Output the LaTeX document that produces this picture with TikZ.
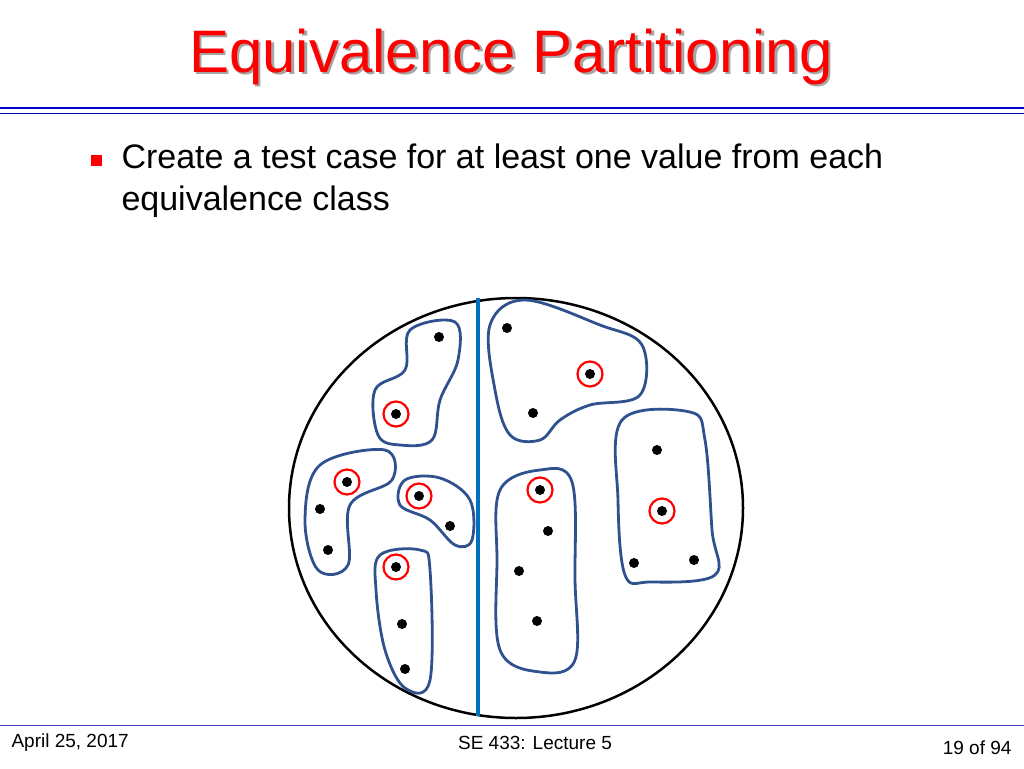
\documentclass[tikz,border=0pt]{standalone}
\usepackage{fontspec}
\setmainfont{Liberation Sans}
\begin{document}
\begin{tikzpicture}[x=1pt,y=-1pt,
  blob/.style={draw={rgb,255:red,47;green,82;blue,143},line width=2.8pt,line join=round},
  dot/.style={circle,fill=black,inner sep=0pt,minimum size=10pt},
  pick/.style={circle,draw=red,line width=2.2pt,inner sep=0pt,minimum size=25pt}]
\useasboundingbox (0,0) rectangle (1024,768);
\definecolor{tblue}{RGB}{0,112,192}
\node (title)[text=red,font=\fontsize{60}{70}\selectfont] at (511,58) {\rlap{\kern2.5pt\raisebox{-2.5pt}{\color{gray!70}Equivalence Partitioning}}Equivalence Partitioning};
\draw[blue!80!black,line width=2.5pt] (0,108) -- (1024,108);
\draw[blue!70!black,line width=1pt] (0,113) -- (1024,113);
\node (bul)[fill=red,minimum size=11pt,inner sep=0pt] at (96,160) {};
\node (txt)[anchor=north west,align=left,font=\fontsize{34}{42}\selectfont] at (118,140) {Create a test case for at least one value from each\\equivalence class};
\draw[line width=2.5pt] (516,508) ellipse [x radius=227, y radius=210];
\draw[tblue,line width=4pt] (478,298) -- (478,716);
\draw[blob] plot[smooth cycle,tension=0.6] coordinates {(410,330)(455,322)(458,360)(440,400)(432,440)(400,445)(378,435)(375,390)(405,370)};
\draw[blob] plot[smooth cycle,tension=0.6] coordinates {(320,465)(385,450)(392,480)(350,505)(348,565)(318,570)(305,520)};
\draw[blob] plot[smooth cycle,tension=0.6] coordinates {(405,480)(440,478)(470,500)(472,540)(455,545)(430,520)(400,505)};
\draw[blob] plot[smooth cycle,tension=0.6] coordinates {(380,555)(420,550)(430,570)(430,680)(405,688)(385,650)(376,590)};
\draw[blob] plot[smooth cycle,tension=0.6] coordinates {(490,325)(525,300)(600,325)(642,345)(640,395)(590,405)(560,420)(540,440)(510,435)(495,390)};
\draw[blob] plot[smooth cycle,tension=0.6] coordinates {(500,490)(540,470)(572,482)(575,580)(575,660)(540,672)(500,650)(497,560)};
\draw[blob] plot[smooth cycle,tension=0.6] coordinates {(622,420)(690,412)(705,440)(712,530)(715,575)(650,582)(625,575)(618,500)};
\foreach \x/\y in {439/337,320/509,328/550,450/526,402/624,405/669,507/328,533/413,657/450,634/563,694/560,548/531,519/571,537/621}
  \node[dot] at (\x,\y) {};
\foreach \x/\y in {396/414,347/482,419/496,396/567,590/374,662/511,540/490}
  {\node[dot] at (\x,\y) {}; \node[pick] at (\x,\y) {};}
\draw[blue!50!gray,line width=0.8pt] (0,725) -- (1024,725);
\node (d)[anchor=west,font=\fontsize{19}{21}\selectfont] at (8,743) {April 25, 2017};
\node (l)[font=\fontsize{19}{21}\selectfont] at (535,743) {SE 433: Lecture 5};
\node (p)[anchor=east,font=\fontsize{19}{21}\selectfont] at (1015,748) {19 of 94};
\end{tikzpicture}
\end{document}
